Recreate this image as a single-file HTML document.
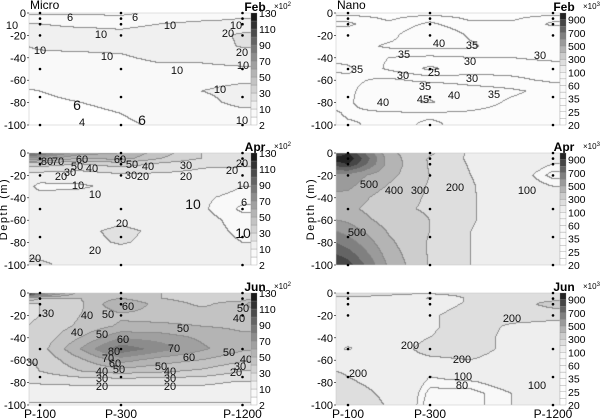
<!DOCTYPE html>
<html><head><meta charset="utf-8"><style>
body{margin:0;background:#fff;width:600px;height:420px;overflow:hidden;font-family:"Liberation Sans",sans-serif}
#root{position:relative;width:600px;height:420px}
canvas{position:absolute}
svg{position:absolute;left:0;top:0}
</style></head><body><div id="root">
<svg id="ov" width="600" height="420"></svg>
</div>
<script>
// ---- data ----
const colT = [-0.15, 0, 0.5, 1, 1.5, 2, 2.5, 2.6];
const depths = [0, -5, -10, -20, -30, -40, -50, -60, -70, -80, -90, -100];
const stations = ["P-100", "P-300", "P-1200"];
const stationT = [0, 1, 2.5];
const sampleDepths = [0, -5, -10, -20, -50, -75, -100];
const yTicks = [0, -20, -40, -60, -80, -100];
const microLevels = [2, 6, 10, 20, 30, 40, 50, 60, 70, 80, 90, 100, 110, 120, 130];
const microLabels = [2, 10, 30, 50, 70, 90, 110, 130];
const nanoLevels = [20, 22, 25, 30, 35, 45, 60, 80, 100, 200, 300, 400, 500, 600, 700, 800, 900, 1000];
const nanoLabels = [20, 25, 35, 60, 100, 300, 500, 700, 900];
const microFeb = [
[5,5,5.5,5,7,8,9,9],[8,8,7,7,8,9,10,10],[10,10,9,9,10,11,11,11],[12,12,12,11,12,14,22,22],
[10,10.5,11,11,12,14,21,21],[9,9,9,9.5,11,11,12,12],[8,8,8,8,9,9,9.5,9.5],[7,7,7.5,8,8,9,9.5,9.5],
[5.8,6,7,7.5,8,10,11,11],[5,5.3,6,7,7.5,9,11,11],[4,4.5,5,6,7,8,9,9],[3.5,4,4.5,5.5,6.5,8,9.5,9.5]];
const microApr = [
[95,90,65,60,45,30,30,30],[70,65,50,55,40,30,25,25],[35,35,30,35,28,22,22,22],[15,15,14,18,18,17,15,15],
[12,8,9,12,14,14,10,10],[13,13,13,14,14,11,8,8],[14,14,14,15,14,11,5,5],[14,14,15,18,15,12,8,8],
[14,14,18,22,18,12,9,9],[15,15,17,21,17,12,10,10],[17,17,15,16,15,13,12,12],[24,22,16,15,15,14,13,13]];
const microJun = [
[130,90,45,45,40,35,30,30],[50,40,40,50,40,35,35,35],[30,30,38,60,45,38,45,55],[28,30,40,48,46,45,40,40],
[30,32,42,52,52,50,48,48],[30,33,50,68,65,58,52,52],[32,35,60,88,75,62,52,52],[30,32,48,65,55,50,42,42],
[26,30,40,45,42,38,30,30],[21,21,22,22,22,22,19,19],[15,15,15,15,15,15,15,15],[9,9,9,9,9,9,9,9]];
const nanoFeb = [
[27,27,27,27,27,27,27,27],[33,33,29,33,29,29,33,33],[36,36,31,36,31,31,36,36],[32,32,33,41,34,31,31,31],
[32,32,36,37,36,31,31,31],[34,33,30,29,30,30,31,31],[36,36,29,24,28,28,28,28],[33,34,36,33,32,31,29,29],
[32,34,39,42,38,36,33,33],[32,34,41,46,38,34,33,33],[36,34,34,34,34,33,33,33],[37,36,33,36,33,32,32,32]];
const nanoApr = [
[800,900,420,320,180,140,110,110],[950,980,450,290,180,140,110,110],[850,900,460,290,190,140,100,100],
[550,560,430,300,200,130,70,70],[520,520,390,290,210,130,100,100],[480,470,340,290,210,140,140,140],
[440,430,320,290,210,140,140,140],[500,480,350,300,210,140,140,140],[600,560,390,300,200,140,140,140],
[700,650,420,290,200,140,140,140],[800,750,450,290,200,140,140,140],[900,850,480,290,200,140,140,140]];
const nanoJun = [
[250,250,220,230,250,250,250,250],[180,180,180,90,220,230,250,250],[160,160,170,170,210,230,350,350],
[160,160,170,190,230,230,220,220],[160,160,170,190,230,190,180,180],[150,150,170,200,230,180,170,170],
[120,90,170,220,230,180,170,170],[170,170,180,190,200,170,170,170],[200,190,170,110,140,150,150,150],
[230,210,170,90,95,120,100,100],[260,240,180,70,70,100,110,110],[300,270,190,60,70,100,110,110]];

const microGray = [255,249,240,225,210,195,180,160,140,120,100,75,50,25];
const nanoGray = [255,254,253,252,251,250,249,248,238,222,205,180,155,128,100,70,35];

const panels = [
 {name:"micro-feb", grid:microFeb, x0:29, x1:251, y0:13, y1:125, st:40, sp:81, kind:"micro", month:"Feb", title:"Micro", xl:false, ylab:false, cl:[["6",70,17],["6",135,17],["10",12,25],["10",101,34],["10",170,25],["10",236,25],["20",228,33],["20",242,52],["10",40,50],["10",107,56],["10",177,70],["10",243,65],["10",220,89],["6",77,106,14],["6",142,121,14],["4",82,122],["10",242,120]]},
 {name:"micro-apr", grid:microApr, x0:29, x1:251, y0:153, y1:265, st:40, sp:81, kind:"micro", month:"Apr", title:"", xl:false, ylab:true, cl:[["80",47,161],["70",58,161],["60",82,159],["50",77,166],["40",92,168],["30",70,172],["20",61,176],["60",120,159],["50",132,164],["40",148,166],["30",131,175],["20",143,176],["30",186,165],["20",186,176],["20",232,170],["20",242,163],["10",78,185],["10",95,194],["10",243,185],["6",244,202],["10",193,205,14],["20",122,223],["20",95,250],["10",243,234,14],["20",35,258]]},
 {name:"micro-jun", grid:microJun, x0:29, x1:251, y0:293, y1:405, st:40, sp:81, kind:"micro", month:"Jun", title:"", xl:true, ylab:false, cl:[["60",128,306],["30",48,313],["40",87,315],["50",108,314],["50",243,308],["40",239,318],["40",77,332],["50",102,334],["50",183,328],["60",123,339],["80",114,351],["70",174,348],["70",108,358],["60",115,363],["50",119,369],["60",189,357],["50",229,352],["40",246,359],["30",32,362],["30",240,366],["20",236,372],["40",102,371],["30",102,378],["20",102,386],["50",161,366],["40",170,371],["30",170,378],["20",170,386]]},
 {name:"nano-feb", grid:nanoFeb, x0:336, x1:560, y0:13, y1:125, st:348, sp:82, kind:"nano", month:"Feb", title:"Nano", xl:false, ylab:false, cl:[["40",439,43],["35",472,45],["35",404,54],["30",540,55],["30",470,61],["35",357,69],["30",403,75],["25",434,72],["30",472,78],["35",425,86],["40",454,95],["35",494,94],["45",423,99],["40",383,102]]},
 {name:"nano-apr", grid:nanoApr, x0:336, x1:560, y0:153, y1:265, st:348, sp:82, kind:"nano", month:"Apr", title:"", xl:false, ylab:true, cl:[["500",369,184],["400",394,190],["300",420,190],["200",455,187],["100",527,190],["500",357,232]]},
 {name:"nano-jun", grid:nanoJun, x0:336, x1:560, y0:293, y1:405, st:348, sp:82, kind:"nano", month:"Jun", title:"", xl:true, ylab:false, cl:[["200",512,318],["200",410,345],["200",462,359],["200",358,373],["100",463,376],["80",462,385],["100",537,385]]}
];

const SVGNS = "http://www.w3.org/2000/svg";
const ov = document.getElementById("ov");
function mk(tag, attrs, parent, text){
  const e = document.createElementNS(SVGNS, tag);
  for (const k in attrs) e.setAttribute(k, attrs[k]);
  if (text !== undefined) e.textContent = text;
  (parent||ov).appendChild(e); return e;
}
function interp(grid, t, d){
  let i=0; while(i<colT.length-2 && t>colT[i+1]) i++;
  let j=0; while(j<depths.length-2 && d<depths[j+1]) j++;
  let fx=(t-colT[i])/(colT[i+1]-colT[i]); fx=Math.max(0,Math.min(1,fx));
  let fy=(d-depths[j])/(depths[j+1]-depths[j]); fy=Math.max(0,Math.min(1,fy));
  const a=grid[j][i],b=grid[j][i+1],c=grid[j+1][i],e=grid[j+1][i+1];
  return a*(1-fx)*(1-fy)+b*fx*(1-fy)+c*(1-fx)*fy+e*fx*fy;
}
function band(levels, v){
  let k=0; while(k<levels.length-2 && v>=levels[k+1]) k++; return k;
}
panels.forEach(p=>{
  const levels = p.kind==="micro"?microLevels:nanoLevels;
  const grays = p.kind==="micro"?microGray:nanoGray;
  const labels = p.kind==="micro"?microLabels:nanoLabels;
  const W=p.x1-p.x0, H=p.y1-p.y0;
  const xOf = t => p.st + t*p.sp;
  const tOf = x => (x-p.st)/p.sp;
  const yOf = d => p.y0 + (-d/100)*H;
  const dOf = y => -(y-p.y0)/H*100;
  const cv=document.createElement("canvas");
  cv.width=W; cv.height=H; cv.style.left=p.x0+"px"; cv.style.top=p.y0+"px";
  
  
  document.getElementById("root").insertBefore(cv, ov);
  const ctx=cv.getContext("2d"); const img=ctx.createImageData(W,H);
  const B=[];
  for(let y=0;y<H;y++){B.push([]);for(let x=0;x<W;x++){B[y].push(band(levels, interp(p.grid, tOf(p.x0+x+0.5), dOf(p.y0+y+0.5))));}}
  for(let y=0;y<H;y++)for(let x=0;x<W;x++){
    let g=grays[B[y][x]];
    const edge=(x+1<W&&B[y][x+1]!==B[y][x])||(y+1<H&&B[y+1][x]!==B[y][x]);
    if(edge) g=Math.min(g,140);
    const o=(y*W+x)*4; img.data[o]=img.data[o+1]=img.data[o+2]=g; img.data[o+3]=255;
  }
  ctx.putImageData(img,0,0);
  const g = mk("g",{});
  mk("rect",{x:p.x0,y:p.y0,width:W,height:H,fill:"none",stroke:"#ccc","stroke-width":0.6,},g);
  p.cl.forEach(c=>{
    mk("text",{x:c[1],y:c[2]+4,"font-size":c[3]||11,"text-anchor":"middle",fill:"#111",},g,c[0]);
  });
  stationT.forEach(st=>sampleDepths.forEach(d=>{
    mk("circle",{cx:xOf(st),cy:yOf(d),r:1.3,fill:"#000",},g);
  }));
  yTicks.forEach(v=>{
    mk("text",{x:p.x0-3,y:yOf(v)+4,"font-size":11,"text-anchor":"end",fill:"#000",},g,String(v));
    mk("line",{x1:p.x0-2,x2:p.x0,y1:yOf(v),y2:yOf(v),stroke:"#000","stroke-width":0.6,},g);
  });
  if(p.xl) stations.forEach((s,i)=>{
    mk("text",{x:xOf(stationT[i]),y:p.y1+13,"font-size":12,"text-anchor":"middle",fill:"#000",},g,s);
  });
  if(p.ylab){
    const cx=p.x0-22, cy=(p.y0+p.y1)/2;
    mk("text",{x:cx,y:cy,transform:`rotate(-90 ${cx} ${cy})`,"font-size":11,"letter-spacing":"1.5","text-anchor":"middle",fill:"#000",},g,"Depth (m)");
  }
  if(p.title) mk("text",{x:p.x0+1,y:p.y0-4,"font-size":12,fill:"#000",},g,p.title);
  mk("text",{x:p.x1+4,y:p.y0-2,"font-size":12,"font-weight":"bold","text-anchor":"middle",fill:"#000",},g,p.month);
  const cbx=p.x1, cbw=6, nb=levels.length-1, bh=H/nb;
  for(let k=0;k<nb;k++){
    mk("rect",{x:cbx,y:p.y1-(k+1)*bh,width:cbw,height:bh,fill:`rgb(${grays[k]},${grays[k]},${grays[k]})`,stroke:"#888","stroke-width":0.3,},g);
  }
  labels.forEach(v=>{
    const k=levels.indexOf(v);
    mk("text",{x:cbx+cbw+2,y:p.y1-k*bh+4,"font-size":10.5,fill:"#000",},g,String(v));
  });
  const ex=mk("text",{x:cbx+cbw+17,y:p.y0-4,"font-size":8,fill:"#000",},g,"\u00d710");
  mk("tspan",{dy:-3,"font-size":6},ex,p.kind==="micro"?"2":"3");
});
</script></body></html>
